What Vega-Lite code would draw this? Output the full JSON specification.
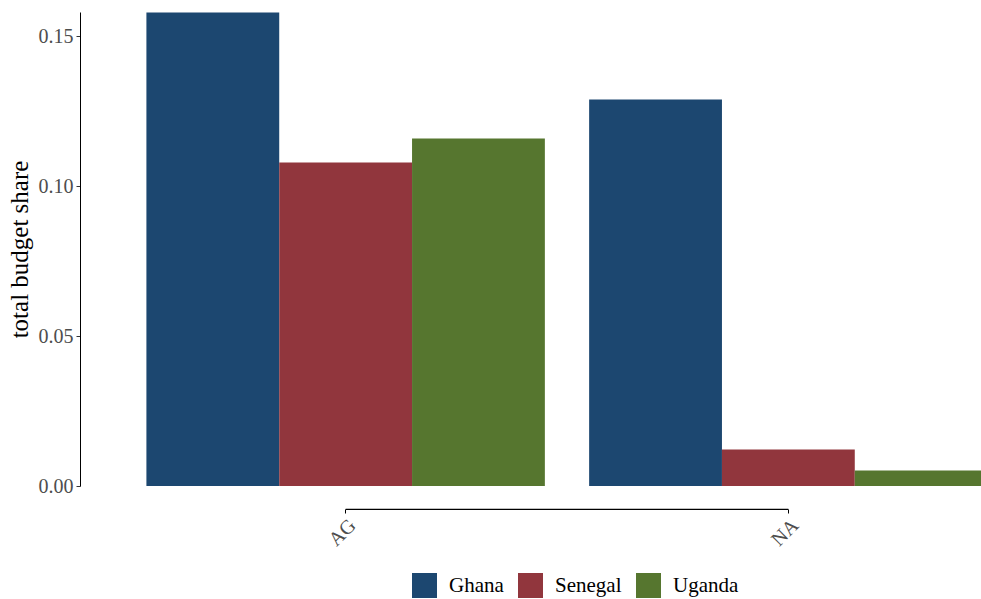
{
  "$schema": "https://vega.github.io/schema/vega-lite/v6.json",
  "width": 901,
  "height": 474,
  "autosize": {"type": "none"},
  "padding": {"left": 80, "top": 12, "right": 0, "bottom": 113},
  "background": "white",
  "config": {"view": {"stroke": null}, "font": "Liberation Serif"},
  "data": {
    "values": [
      {"region": "AG", "country": "Ghana", "share": 0.1578},
      {"region": "AG", "country": "Senegal", "share": 0.1078},
      {"region": "AG", "country": "Uganda", "share": 0.1158},
      {"region": "NA", "country": "Ghana", "share": 0.1288},
      {"region": "NA", "country": "Senegal", "share": 0.0122},
      {"region": "NA", "country": "Uganda", "share": 0.0052}
    ]
  },
  "layer": [
    {
      "mark": {"type": "bar", "clip": true},
      "encoding": {
        "x": {
          "field": "region",
          "type": "nominal",
          "scale": {"range": [0, 974], "paddingInner": 0.1, "paddingOuter": 0.15},
          "axis": {
            "title": null,
            "domain": false,
            "offset": 23,
            "tickSize": 4,
            "tickColor": "black",
            "labelAngle": -45,
            "labelFontSize": 20,
            "labelColor": "#4d4d4d",
            "labelPadding": 2
          }
        },
        "xOffset": {"field": "country", "type": "nominal", "scale": {"paddingInner": 0, "paddingOuter": 0}},
        "y": {
          "field": "share",
          "type": "quantitative",
          "scale": {"domain": [0, 0.158], "nice": false, "zero": true},
          "axis": {
            "title": "total budget share",
            "values": [0, 0.05, 0.1, 0.15],
            "format": ".2f",
            "grid": false,
            "domainColor": "black",
            "tickColor": "#333333",
            "tickSize": 4,
            "labelFontSize": 20,
            "labelColor": "#4d4d4d",
            "labelPadding": 3,
            "titleFontSize": 25,
            "titleFontWeight": "normal",
            "titleColor": "black",
            "titlePadding": 6
          }
        },
        "color": {
          "field": "country",
          "type": "nominal",
          "scale": {"domain": ["Ghana", "Senegal", "Uganda"], "range": ["#1C4770", "#91363D", "#56762F"]},
          "legend": {
            "title": null,
            "orient": "none",
            "legendX": 332,
            "legendY": 561,
            "direction": "horizontal",
            "symbolType": "square",
            "symbolSize": 625,
            "symbolStrokeWidth": 0,
            "symbolOpacity": 1,
            "labelFontSize": 21,
            "labelColor": "black",
            "labelOffset": 12,
            "columnPadding": 14
          }
        }
      }
    },
    {
      "data": {"values": [{"k": 1}]},
      "mark": {"type": "rule", "color": "black", "strokeWidth": 1.2},
      "encoding": {
        "x": {"datum": "AG"},
        "x2": {"datum": "NA"},
        "y": {"datum": -0.0078}
      }
    }
  ]
}
